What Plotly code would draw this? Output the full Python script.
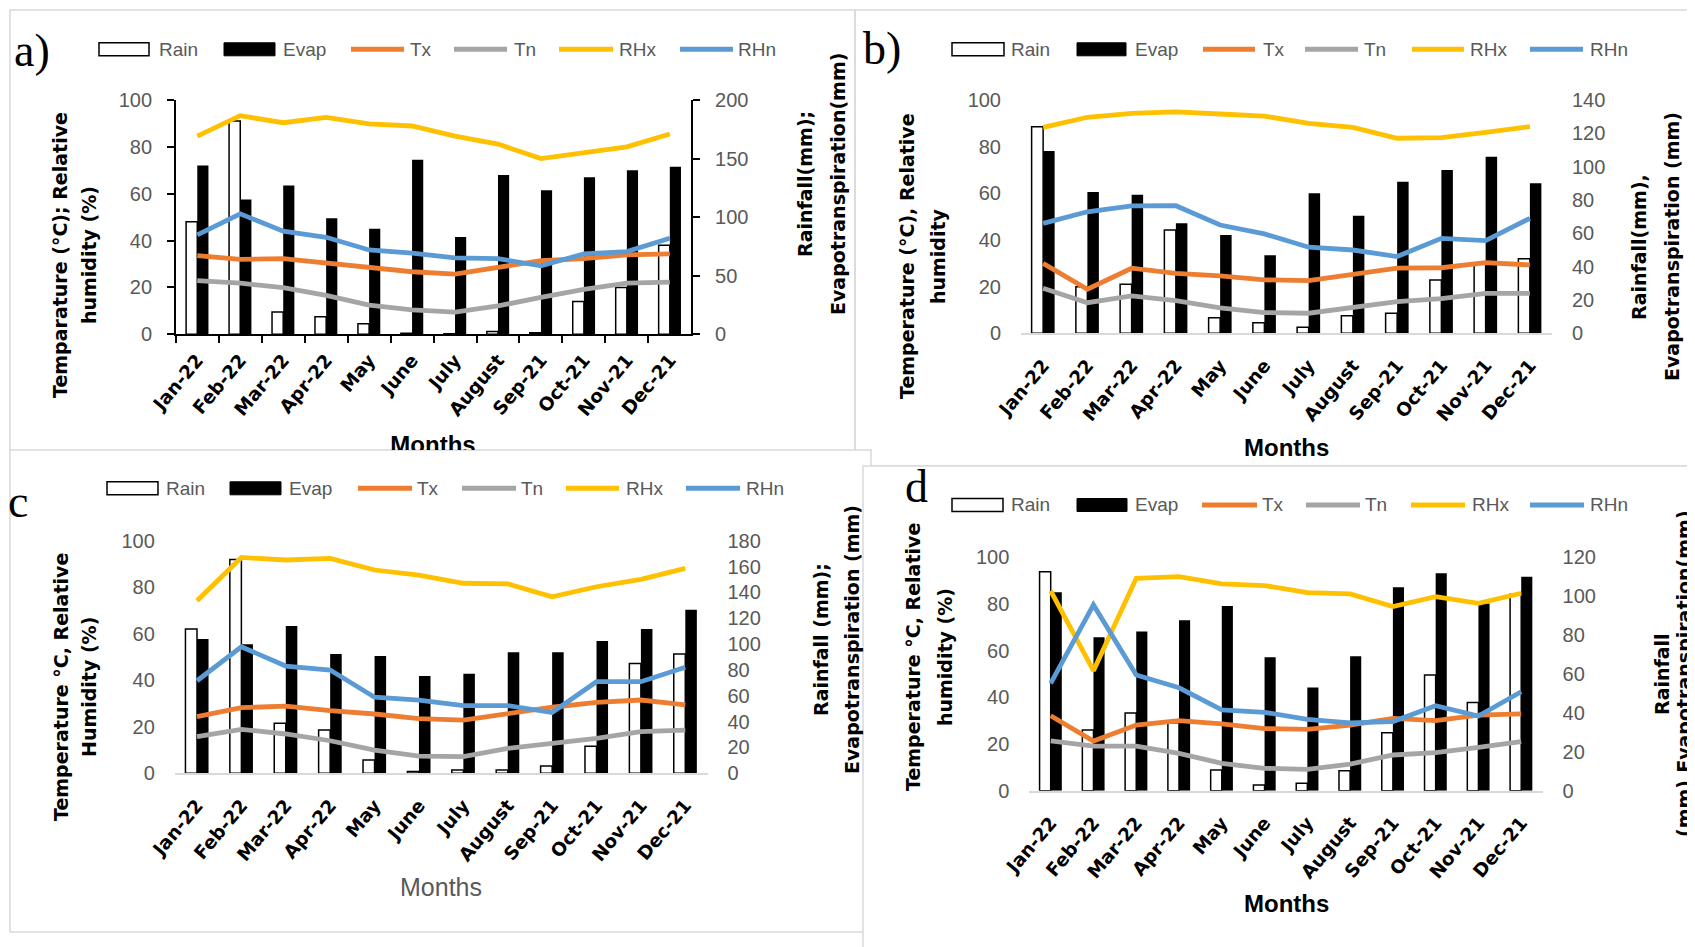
import plotly.graph_objects as go

# The page adds an 8px body margin, so the figure is drawn 8px smaller and all
# reference pixel positions are shifted by that offset.
REF_W, REF_H = 1695, 947
OFF = 8
W, H = REF_W - OFF, REF_H - OFF

months = ["Jan-22", "Feb-22", "Mar-22", "Apr-22", "May", "June", "July",
          "August", "Sep-21", "Oct-21", "Nov-21", "Dec-21"]

# ---------------- Panel a ----------------
rain_a = [96, 182, 19, 15, 9, 1, 0.5, 2.3, 1.4, 28, 40, 76]
evap_a = [144, 115, 127, 99, 90, 149, 83, 136, 123, 134, 140, 143]
tx_a = [33.6, 32.0, 32.3, 30.6, 28.6, 26.7, 25.7, 28.6, 31.4, 32.3, 33.9, 34.3]
tn_a = [22.9, 21.8, 19.9, 16.6, 12.5, 10.4, 9.5, 12.1, 15.8, 19.2, 21.8, 22.3]
rhx_a = [84.6, 93.3, 90.3, 92.6, 89.8, 88.9, 84.6, 81.2, 75.0, 77.5, 80.0, 85.5]
rhn_a = [42.4, 51.4, 44.0, 41.4, 36.0, 34.6, 32.6, 32.3, 29.2, 34.3, 35.3, 41.0]

# ---------------- Panel b ----------------
rain_b = [124, 28, 29.4, 62, 9.4, 6.4, 3.6, 10.6, 12, 32, 42, 44.8]
evap_b = [109.4, 84.8, 83.2, 66, 59, 46.8, 84, 70.6, 91, 98, 106, 90]
tx_b = [30.0, 18.9, 27.9, 25.7, 24.6, 22.9, 22.6, 25.4, 27.9, 28.1, 30.3, 29.3]
tn_b = [19.3, 13.1, 16.0, 14.0, 10.9, 8.9, 8.6, 11.1, 13.6, 14.9, 17.1, 17.1]
rhx_b = [88.3, 92.6, 94.3, 94.9, 94.0, 93.1, 90.0, 88.3, 83.6, 83.9, 86.1, 88.6]
rhn_b = [47.1, 52.1, 54.6, 54.7, 46.4, 42.6, 36.9, 35.7, 32.9, 40.7, 39.7, 49.3]

# ---------------- Panel c ----------------
rain_c = [111.7, 165.5, 38.7, 33.5, 10.3, 1.3, 2.6, 2.6, 5.7, 21, 85, 92.3]
evap_c = [104, 99.8, 114, 92.3, 90.8, 75.3, 77.1, 93.6, 93.6, 102.4, 111.7, 126.6]
tx_c = [24.4, 28.2, 28.9, 26.9, 25.5, 23.5, 22.9, 25.8, 28.4, 30.5, 31.5, 29.4]
tn_c = [15.8, 18.9, 16.9, 14.0, 10.0, 7.4, 7.2, 10.7, 12.9, 15.0, 17.9, 18.6]
rhx_c = [74.2, 92.8, 91.7, 92.4, 87.4, 85.2, 81.7, 81.4, 75.9, 80.2, 83.4, 88.1]
rhn_c = [39.8, 54.4, 46.1, 44.4, 32.7, 31.5, 29.1, 29.1, 26.1, 39.4, 39.4, 45.6]

# ---------------- Panel d ----------------
rain_d = [112.6, 31.2, 40.0, 35, 10.6, 2.9, 3.8, 10.3, 29.8, 59.5, 45.3, 101]
evap_d = [102, 78.9, 81.8, 87.6, 95, 68.6, 53, 69.1, 104.6, 111.8, 96.3, 110]
tx_d = [32.1, 21.3, 28.1, 30.0, 28.6, 26.6, 26.3, 28.1, 31.0, 30.0, 32.4, 32.9]
tn_d = [21.3, 19.1, 19.1, 16.0, 11.7, 9.6, 9.1, 11.4, 15.3, 16.3, 18.6, 21.0]
rhx_d = [85.6, 51.4, 91.0, 91.7, 88.6, 87.9, 84.9, 84.3, 78.9, 83.1, 80.3, 84.6]
rhn_d = [46.0, 79.6, 49.6, 44.1, 34.6, 33.6, 30.6, 29.1, 29.6, 36.4, 32.0, 42.4]

line_colors = {"Tx": "#ED7D31", "Tn": "#A5A5A5", "RHx": "#FFC000", "RHn": "#5B9BD5"}

TICKF = "Liberation Sans, Arial, sans-serif"
BOLDF = "DejaVu Sans, Verdana, sans-serif"
SERIF = "Liberation Serif, Times New Roman, serif"
GRAY = "#595959"


def fx(px):
    return (px - OFF) / W


def fy(py):
    return 1 - (py - OFF) / H


panels = [
    dict(letter="a)", letter_pos=(32, 50),
         data=dict(Rain=rain_a, Evap=evap_a, Tx=tx_a, Tn=tn_a, RHx=rhx_a, RHn=rhn_a),
         rmax=200, rdtick=50, plot=(175.8, 100, 691.3, 334.3), framed=True,
         left_title=["Temparature (°C); Relative", "humidity (%)"], left_x=(60, 89), left_y=255,
         right_title=["Rainfall(mm);", "Evapotranspiration(mm)"], right_x=(805, 838), right_y=184,
         legend_y=49.3,
         legend=[(99, 149, 157), (224, 275, 281), (351, 404, 408), (454, 507, 512), (559, 613, 617), (680, 733, 736)]),
    dict(letter="b)", letter_pos=(882, 49),
         data=dict(Rain=rain_b, Evap=evap_b, Tx=tx_b, Tn=tn_b, RHx=rhx_b, RHn=rhn_b),
         rmax=140, rdtick=20, plot=(1021, 100, 1552, 333.3), framed=False,
         left_title=["Temperature (°C), Relative", "humidity"], left_x=(907, 938), left_y=256,
         right_title=["Rainfall(mm),", "Evapotranspiration (mm)"], right_x=(1639, 1672), right_y=247,
         legend_y=49.3,
         legend=[(952, 1004, 1009), (1077, 1126, 1133), (1203, 1255, 1261), (1305, 1358, 1362), (1412, 1464, 1468), (1530, 1583, 1588)],
         months=(1286, 447, True)),
    dict(letter="c", letter_pos=(18, 501),
         data=dict(Rain=rain_c, Evap=evap_c, Tx=tx_c, Tn=tn_c, RHx=rhx_c, RHn=rhn_c),
         rmax=180, rdtick=20, plot=(174.8, 540.7, 707.5, 773.3), framed=False,
         left_title=["Temperature °C, Relative", "Humidity (%)"], left_x=(61, 89), left_y=687,
         right_title=["Rainfall (mm);", "Evapotranspiration (mm)"], right_x=(821, 852), right_y=640,
         legend_y=488.3,
         legend=[(107, 158, 164), (230, 281, 287), (358, 412, 415), (462, 516, 519), (566, 619, 624), (686, 740, 744)],
         months=(441, 887, False)),
    dict(letter="d", letter_pos=(916, 486),
         data=dict(Rain=rain_d, Evap=evap_d, Tx=tx_d, Tn=tn_d, RHx=rhx_d, RHn=rhn_d),
         rmax=120, rdtick=20, plot=(1029.3, 557.3, 1542.6, 790.7), framed=False,
         left_title=["Temperature °C, Relative", "humidity (%)"], left_x=(913, 945), left_y=657,
         right_title=["Rainfall", "(mm),Evapotranspiration(mm)"], right_x=(1662, 1684), right_y=674,
         legend_y=505,
         legend=[(952, 1003, 1009), (1077, 1127, 1133), (1202, 1257, 1260), (1306, 1360, 1363), (1411, 1465, 1470), (1530, 1584, 1588)],
         months=(1286, 903, True)),
]

fig = go.Figure()
layout = {}
shapes = []
annotations = []

# panel frames (drawn first so later panels overlap earlier ones)
frames = [(10, 10, 855, 452, None), (855, 10, 1700, 466, None),
          (10, 450, 871, 932, "white"), (863, 466, 1700, 952, "white")]
for (a, b, c, d, fill) in frames:
    shapes.append(dict(type="rect", xref="paper", yref="paper", x0=fx(a), x1=fx(c), y0=fy(d), y1=fy(b),
                       line=dict(color="#D9D9D9", width=1.5), fillcolor=fill if fill else "rgba(0,0,0,0)",
                       layer="below"))

for p, P in enumerate(panels):
    xa = "x" if p == 0 else f"x{p + 1}"
    xkey = "xaxis" if p == 0 else f"xaxis{p + 1}"
    ib, il = 2 * p + 1, 2 * p + 2
    yb = "y" if ib == 1 else f"y{ib}"
    ybkey = "yaxis" if ib == 1 else f"yaxis{ib}"
    yl = f"y{il}"
    ylkey = f"yaxis{il}"
    x0, ytop, x1, ybot = P["plot"]
    framed = P["framed"]

    layout[xkey] = dict(
        domain=[fx(x0), fx(x1)], anchor=yb, type="category", range=[-0.5, 11.5], automargin=False,
        tickangle=-50, tickfont=dict(family=BOLDF, size=18.5, color="black", weight="bold"),
        showgrid=False, zeroline=False,
        showline=True, linecolor="black" if framed else "#D9D9D9", linewidth=1.5 if framed else 2,
        ticks="outside" if framed else "", tickson="boundaries", ticklen=7, tickwidth=1.5, tickcolor="black",
        ticklabelstandoff=6 if framed else 12,
    )
    common_y = dict(domain=[fy(ybot), fy(ytop)], anchor=xa, showgrid=False, zeroline=False, automargin=False,
                    tickfont=dict(family=TICKF, size=20, color=GRAY),
                    showline=framed, linecolor="black", linewidth=1.5,
                    ticks="outside" if framed else "", ticklen=7, tickwidth=1.5, tickcolor="black",
                    ticklabelstandoff=11 if framed else 19)
    layout[ybkey] = dict(common_y, side="right", range=[0, P["rmax"]], dtick=P["rdtick"])
    layout[ylkey] = dict(common_y, side="left", overlaying=yb, range=[0, 100], dtick=20)

    D = P["data"]
    fig.add_trace(go.Bar(x=months, y=D["Rain"], name="Rain", xaxis=xa, yaxis=yb, showlegend=False,
                         marker=dict(color="white", line=dict(color="black", width=1.5))))
    fig.add_trace(go.Bar(x=months, y=D["Evap"], name="Evap", xaxis=xa, yaxis=yb, showlegend=False,
                         marker=dict(color="black", line=dict(color="black", width=0))))
    for nm in ["Tx", "Tn", "RHx", "RHn"]:
        fig.add_trace(go.Scatter(x=months, y=D[nm], name=nm, xaxis=xa, yaxis=yl, mode="lines", showlegend=False,
                                 line=dict(color=line_colors[nm], width=4.8)))

    # legend (manual keys)
    ly = P["legend_y"]
    names = ["Rain", "Evap", "Tx", "Tn", "RHx", "RHn"]
    for nm, (k0, k1, tx) in zip(names, P["legend"]):
        if nm == "Rain":
            shapes.append(dict(type="rect", xref="paper", yref="paper", x0=fx(k0), x1=fx(k1),
                               y0=fy(ly + 6.5), y1=fy(ly - 6.5), fillcolor="white",
                               line=dict(color="black", width=1.5), layer="above"))
        elif nm == "Evap":
            shapes.append(dict(type="rect", xref="paper", yref="paper", x0=fx(k0), x1=fx(k1),
                               y0=fy(ly + 6.5), y1=fy(ly - 6.5), fillcolor="black",
                               line=dict(color="black", width=1), layer="above"))
        else:
            shapes.append(dict(type="line", xref="paper", yref="paper", x0=fx(k0), x1=fx(k1),
                               y0=fy(ly), y1=fy(ly), line=dict(color=line_colors[nm], width=5), layer="above"))
        annotations.append(dict(xref="paper", yref="paper", x=fx(tx), y=fy(ly), text=nm, showarrow=False,
                                xanchor="left", yanchor="middle",
                                font=dict(family=TICKF, size=19, color=GRAY)))

    # panel letter
    lx, lyy = P["letter_pos"]
    annotations.append(dict(xref="paper", yref="paper", x=fx(lx), y=fy(lyy), text=P["letter"], showarrow=False,
                            xanchor="center", yanchor="middle", font=dict(family=SERIF, size=46, color="black")))

    # axis titles
    for txt, xx in zip(P["left_title"], P["left_x"]):
        annotations.append(dict(xref="paper", yref="paper", x=fx(xx), y=fy(P["left_y"]), text="<b>%s</b>" % txt,
                                textangle=-90, showarrow=False, xanchor="center", yanchor="middle",
                                font=dict(family=BOLDF, size=19, color="black")))
    for txt, xx in zip(P["right_title"], P["right_x"]):
        annotations.append(dict(xref="paper", yref="paper", x=fx(xx), y=fy(P["right_y"]), text="<b>%s</b>" % txt,
                                textangle=-90, showarrow=False, xanchor="center", yanchor="middle",
                                font=dict(family=BOLDF, size=19, color="black")))

    if "months" in P:
        mx, my, bold = P["months"]
        annotations.append(dict(xref="paper", yref="paper", x=fx(mx), y=fy(my),
                                text="<b>Months</b>" if bold else "Months", showarrow=False,
                                xanchor="center", yanchor="middle",
                                font=dict(family=TICKF, size=24 if bold else 25,
                                          color="black" if bold else GRAY)))

# Panel a "Months" title, clipped by the panel c frame (auxiliary invisible axes)
layout["xaxis9"] = dict(domain=[fx(10), fx(855)], range=[10, 855], visible=False, anchor="y9", automargin=False)
layout["yaxis9"] = dict(domain=[fy(450), fy(10)], range=[450, 10], visible=False, anchor="x9", automargin=False)
fig.add_trace(go.Scatter(x=[433], y=[447], mode="text", text=["<b>Months</b>"], xaxis="x9", yaxis="y9",
                         cliponaxis=True, showlegend=False, hoverinfo="skip",
                         textfont=dict(family=TICKF, size=24, color="black")))

fig.update_layout(
    template="none",
    width=W, height=H, autosize=False,
    margin=dict(l=0, r=0, t=0, b=0, pad=0),
    paper_bgcolor="white", plot_bgcolor="rgba(0,0,0,0)",
    barmode="group", bargap=0.48, bargroupgap=0.0,
    shapes=shapes, annotations=annotations, showlegend=False,
    **layout,
)

fig.write_html("out.html")
